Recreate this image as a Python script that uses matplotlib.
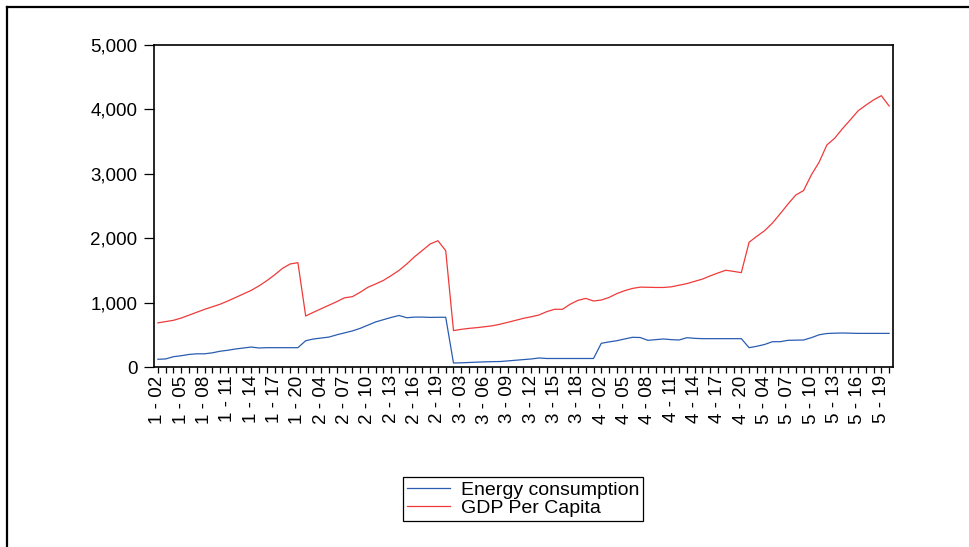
import matplotlib
matplotlib.use("Agg")
import matplotlib.pyplot as plt
from matplotlib.lines import Line2D
from matplotlib.ticker import FuncFormatter

plt.rcParams['font.family'] = ['Liberation Sans', 'DejaVu Sans']

# Panel identifiers: cross-section id and two-digit year
sections = [1, 2, 3, 4, 5]
years = list(range(2, 21))
obs_labels = [f"{s} - {y:02d}" for s in sections for y in years]

energy = [
    # section 1
    120, 125, 160, 175, 195, 205, 205, 220, 245, 260, 280, 295, 310, 295, 300, 300, 300, 300, 300,
    # section 2
    408, 435, 450, 465, 500, 530, 560, 600, 650, 700, 735, 770, 800, 765, 775, 775, 770, 772, 772,
    # section 3
    62, 65, 70, 75, 80, 83, 85, 95, 105, 115, 125, 140, 132, 132, 132, 132, 132, 132, 132,
    # section 4
    368, 390, 408, 435, 461, 458, 414, 425, 435, 425, 419, 455, 445, 440, 440, 440, 440, 440, 440,
    # section 5
    300, 322, 350, 393, 393, 414, 417, 419, 455, 500, 520, 525, 528, 525, 522, 522, 522, 522, 522,
]

gdp = [
    # section 1
    685, 705, 725, 760, 805, 850, 895, 935, 975, 1025, 1080, 1135, 1190, 1260, 1340, 1430, 1530, 1600, 1620,
    # section 2
    792, 850, 905, 960, 1015, 1075, 1092, 1160, 1238, 1290, 1345, 1420, 1500, 1600, 1713, 1810, 1910, 1961, 1806,
    # section 3
    565, 585, 600, 611, 625, 640, 665, 694, 725, 756, 780, 808, 860, 896, 896, 975, 1035, 1065, 1025,
    # section 4
    1040, 1080, 1140, 1185, 1220, 1240, 1238, 1235, 1235, 1245, 1270, 1295, 1330, 1365, 1415, 1460, 1502, 1485, 1465,
    # section 5
    1937, 2030, 2117, 2235, 2380, 2530, 2670, 2740, 2982, 3180, 3448, 3552, 3700, 3836, 3976, 4065, 4147, 4213, 4053,
]

y_ticks = [0, 1000, 2000, 3000, 4000, 5000]

W, H = 970, 547
fig = plt.figure(figsize=(W / 100, H / 100), dpi=100)
ax = fig.add_axes([154 / W, 1 - 367 / H, 739 / W, 322 / H])

x = list(range(len(obs_labels)))
ax.plot(x, energy, color='#2a5db0', lw=0.9, label='Energy consumption')
ax.plot(x, gdp, color='#f03a3a', lw=0.9, label='GDP Per Capita')

ax.set_xlim(-0.5, len(x) - 0.5)
ax.set_ylim(0, 5000)
ax.set_yticks(y_ticks)
ax.yaxis.set_major_formatter(FuncFormatter(lambda v, p: f"{v:,.0f}"))

ax.set_xticks(x)
ax.set_xticklabels([lab if i % 3 == 0 else '' for i, lab in enumerate(obs_labels)],
                   rotation=90, fontsize=13.5)
ax.tick_params(axis='x', direction='out', length=4.5, width=0.9, pad=1.5)
ax.tick_params(axis='y', direction='out', length=7, width=0.9, pad=5, labelsize=13.5)

for sp in ax.spines.values():
    sp.set_linewidth(1.2)
    sp.set_color('black')

fig.legend(loc='center', bbox_to_anchor=(523 / W, 1 - 499 / H), fontsize=14,
           frameon=True, fancybox=False, shadow=False, edgecolor='black',
           framealpha=1, handlelength=2.2, handletextpad=0.55, borderpad=0.2,
           labelspacing=0.05, borderaxespad=0)
leg = fig.legends[0]
leg.get_frame().set_linewidth(0.9)

# Outer frame: left and top edges
fig.add_artist(Line2D([7 / W, 7 / W], [0, 1 - 7 / H], transform=fig.transFigure,
                      color='black', lw=1.6))
fig.add_artist(Line2D([7 / W, 1], [1 - 7 / H, 1 - 7 / H], transform=fig.transFigure,
                      color='black', lw=1.6))

fig.savefig('out.png', dpi=100)
